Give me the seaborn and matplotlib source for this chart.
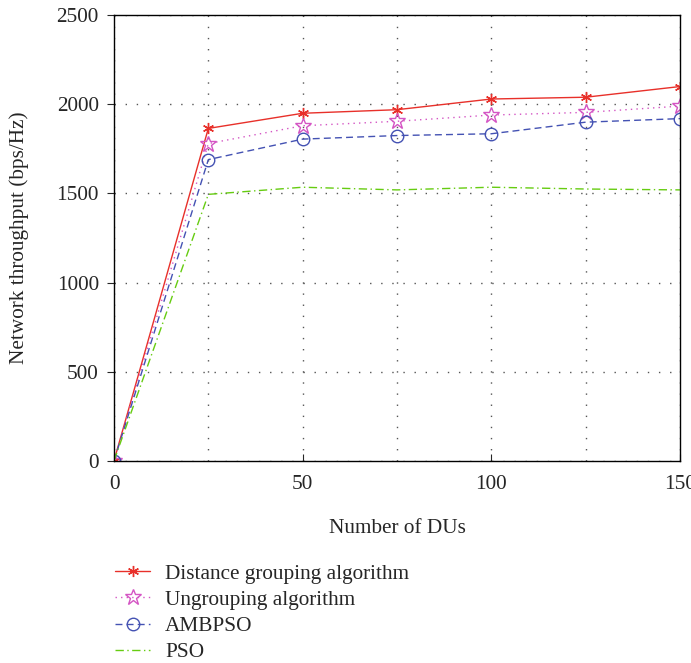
import pandas as pd
import matplotlib.pyplot as plt
import seaborn as sns

# Values
dus = [0, 25, 50, 75, 100, 125, 150]
distance_grouping = [0, 1865, 1950, 1970, 2030, 2040, 2100]
ungrouping = [0, 1780, 1880, 1905, 1940, 1955, 1990]
ambpso = [0, 1690, 1805, 1825, 1835, 1900, 1920]
pso = [0, 1495, 1535, 1520, 1535, 1525, 1520]

names = ['Distance grouping algorithm', 'Ungrouping algorithm', 'AMBPSO', 'PSO']
series = [distance_grouping, ungrouping, ambpso, pso]

rows = []
for name, vals in zip(names, series):
    for x, y in zip(dus, vals):
        rows.append({'DUs': x, 'throughput': y, 'algorithm': name})
data = pd.DataFrame(rows)

sns.set_style('ticks')
plt.rcParams['font.family'] = ['Liberation Serif', 'DejaVu Serif']

styles = {
    'Distance grouping algorithm': dict(color='#e8302a', ls='-', marker=(6, 2, 0), ms=8, mfc='#e8302a'),
    'Ungrouping algorithm': dict(color='#d455c4', ls=(0, (1, 3)), marker='*', ms=12, mfc='none'),
    'AMBPSO': dict(color='#4452b3', ls=(0, (5, 3)), marker='o', ms=9, mfc='none'),
    'PSO': dict(color='#66cc11', ls=(0, (6, 2.5, 1, 2.5)), marker=None, ms=0, mfc='none'),
}

fig = plt.figure(figsize=(6.91, 6.63), dpi=100)
ax = fig.add_axes([0.165, 0.305, 0.819, 0.672])

for name in names:
    st = styles[name]
    sub = data[data['algorithm'] == name]
    sns.lineplot(data=sub, x='DUs', y='throughput', ax=ax, label=name,
                 color=st['color'], linestyle=st['ls'], marker=st['marker'],
                 markersize=st['ms'], markerfacecolor=st['mfc'],
                 markeredgecolor=st['color'], markeredgewidth=1.0, linewidth=1.0)

ax.set_xlim(0, 150)
ax.set_ylim(0, 2500)
ax.set_xticks([0, 50, 100, 150])
ax.set_xticks([25, 75, 125], minor=True)
ax.set_yticks([0, 500, 1000, 1500, 2000, 2500])
ax.grid(True, which='both', axis='x', color='#555555', linestyle=(0, (1, 7)), linewidth=1.0)
ax.grid(True, which='major', axis='y', color='#555555', linestyle=(0, (1, 7)), linewidth=1.0)
ax.tick_params(axis='x', which='major', direction='in', length=5, labelsize=15.3, pad=10)
ax.tick_params(axis='x', which='minor', length=0)
ax.tick_params(axis='y', direction='out', length=5, labelsize=15.3, pad=6)
for sp in ax.spines.values():
    sp.set_color('black')
    sp.set_linewidth(1.0)

ax.set_xlabel('Number of DUs', fontsize=15.3, labelpad=18)
ax.set_ylabel('Network throughput (bps/Hz)', fontsize=15.3, labelpad=20)

ax.legend(loc='upper left', bbox_to_anchor=(-0.013, -0.212), frameon=False,
          fontsize=15.3, handlelength=1.65, handletextpad=0.7,
          labelspacing=0.3, borderaxespad=0)

fig.savefig('out.png', dpi=100)
